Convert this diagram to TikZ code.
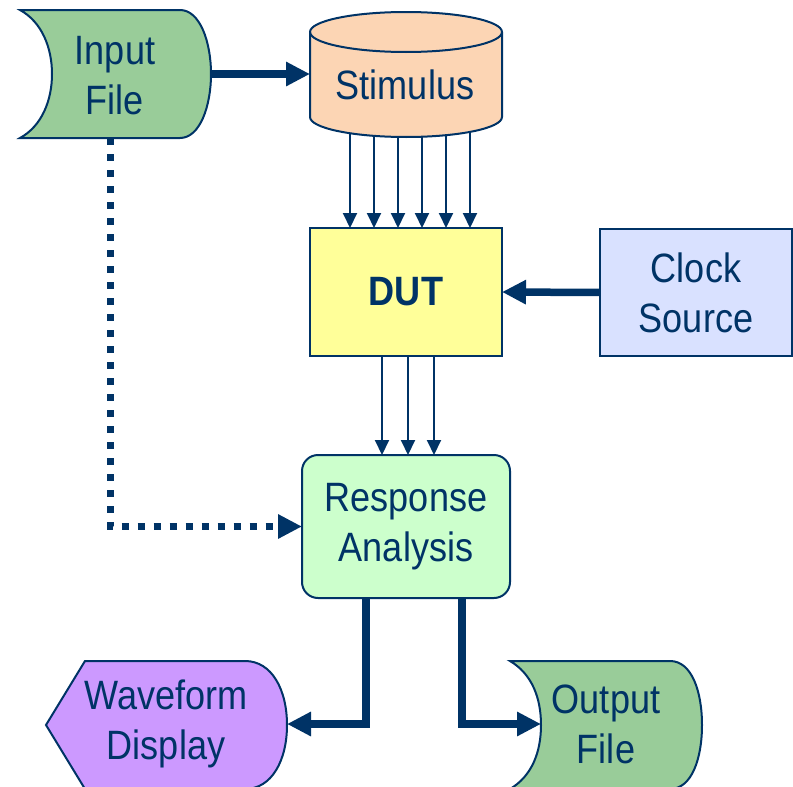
\documentclass[tikz,border=0pt]{standalone}
\usepackage{fontspec}
\setmainfont{Liberation Sans}[FakeStretch=0.88]
\usetikzlibrary{arrows.meta}
\definecolor{navyline}{HTML}{003366}
\definecolor{filegreen}{HTML}{99CC99}
\definecolor{stimpeach}{HTML}{FCD5B4}
\definecolor{dutyellow}{HTML}{FFFF99}
\definecolor{clockblue}{HTML}{D9E1FF}
\definecolor{respgreen}{HTML}{CCFFCC}
\definecolor{wavepurple}{HTML}{CC99FF}

\tikzset{
  outline/.style={draw=navyline, line width=2pt},
  boxtext/.style={text=navyline, align=center, font=\fontsize{41}{50}\selectfont},
  box/.style={outline, boxtext, inner sep=0pt, outer sep=0pt},
  thinarrow/.style={navyline, line width=2pt, -{Triangle[length=15pt,width=14pt]}},
  thickarrow/.style={navyline, line width=7.5pt, -{Triangle[length=24pt,width=23pt]}},
  dotline/.style={thickarrow, line width=7pt, dash pattern=on 7pt off 9pt}
}

\begin{document}
\begin{tikzpicture}[x=1pt, y=-1pt]
\useasboundingbox (0,0) rectangle (793,787);

% Boxes
\node[box, fill=dutyellow, minimum width=192pt, minimum height=128pt,
      font=\fontsize{41}{50}\selectfont\bfseries] (dut) at (406,292) {DUT};
\node[box, fill=clockblue, minimum width=192pt, minimum height=127pt] (clock) at (696,292.5) {Clock\\Source};
\node[box, fill=respgreen, rounded corners=16pt, minimum width=208pt, minimum height=143pt] (resp) at (406,526.5) {Response\\Analysis};

% Stimulus buses
\coordinate (stimbot) at (406,130);
\foreach \d in {-56,-32,-8,16,40,64} {
    \draw[thinarrow] ([xshift=\d pt]stimbot) -- ([xshift=\d pt]dut.north);
}
\foreach \d in {-24,2,28} {
    \draw[thinarrow] ([xshift=\d pt]dut.south) -- ([xshift=\d pt]resp.north);
}

% Stimulus cylinder
\draw[outline, fill=stimpeach] (310,32) -- (310,117)
    arc[start angle=180, end angle=0, x radius=96, y radius=20] -- (502,32)
    arc[start angle=0, end angle=-180, x radius=96, y radius=20] -- cycle;
\draw[outline] (310,32) arc[start angle=180, end angle=0, x radius=96, y radius=20];
\node[boxtext] (stim) at (405,85) {Stimulus};
\coordinate (stimleft) at (310,74);

% Input file
\draw[outline, fill=filegreen] (20,10) -- (180,10)
    .. controls (200,10) and (211,42) .. (211,74)
    .. controls (211,106) and (200,138) .. (180,138) -- (20,138)
    .. controls (42,126) and (52,100) .. (52,74)
    .. controls (52,48) and (42,22) .. (20,10) -- cycle;
\node[boxtext] (input) at (115,76) {Input\\File};
\coordinate (inbot) at (110,138);
\coordinate (inright) at (211,74);

% Waveform display (cut by the lower edge)
\draw[outline, fill=wavepurple] (46,725) -- (85,661) -- (245,661)
    .. controls (272,661) and (287,690) .. (287,725)
    .. controls (287,760) and (272,789) .. (245,789) -- (85,789) -- cycle;
\node[boxtext] (wave) at (166,724) {Waveform\\Display};
\coordinate (wavetip) at (287,724);

% Output file (cut by the lower edge)
\draw[outline, fill=filegreen] (510,661) -- (670,661)
    .. controls (692,661) and (702,692) .. (702,725)
    .. controls (702,758) and (692,789) .. (670,789) -- (510,789)
    .. controls (532,776) and (541,752) .. (541,725)
    .. controls (541,698) and (532,674) .. (510,661) -- cycle;
\node[boxtext] (output) at (606,724) {Output\\File};
\coordinate (outtip) at (541,724);

% Connectors
\draw[thickarrow] (inright) -- (stimleft);
\draw[thickarrow] (clock.west) -- (dut.east);
\draw[dotline] (inbot) |- (resp.west);
\draw[thickarrow] ([xshift=-40pt]resp.south) |- (wavetip);
\draw[thickarrow] ([xshift=56pt]resp.south) |- (outtip);

\end{tikzpicture}
\end{document}
